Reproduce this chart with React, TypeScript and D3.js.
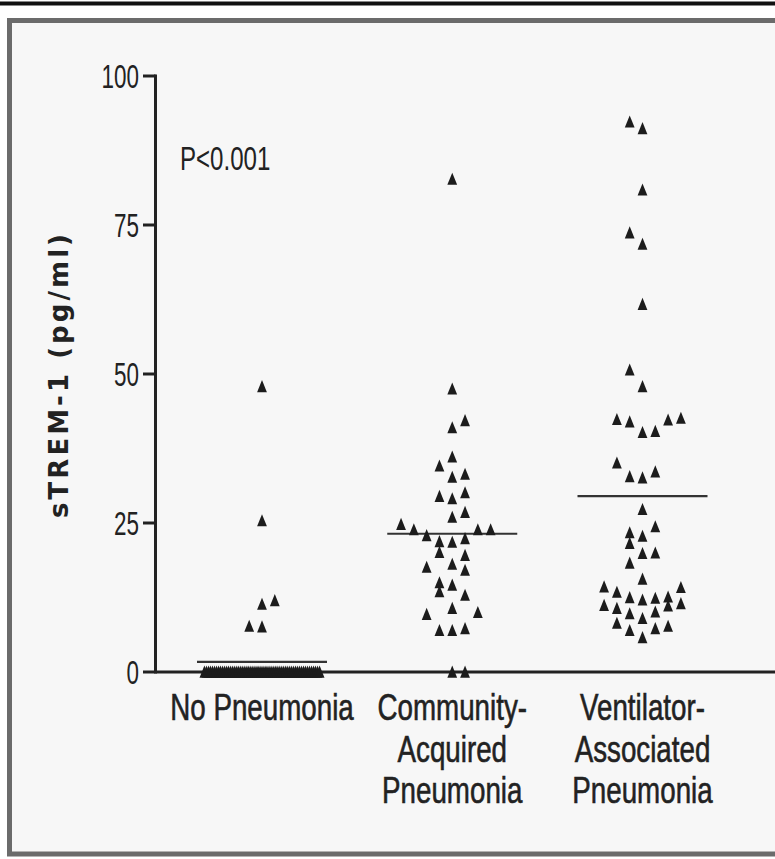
import React from 'react';
import * as d3 from 'd3';

const categories = ['No Pneumonia', 'Community-Acquired Pneumonia', 'Ventilator-Associated Pneumonia'];
const categoryLabelLines = [
  ['No Pneumonia'],
  ['Community-', 'Acquired', 'Pneumonia'],
  ['Ventilator-', 'Associated', 'Pneumonia'],
];
const yTicks = [0, 25, 50, 75, 100];
const groupMeans = [1.7, 23.2, 29.5];
const pValueText = 'P<0.001';
const yAxisTitle = 'sTREM-1 (pg/ml)';

// [value (pg/ml), column slot in the dot plot]
const noPneumoniaNonZero: [number, number][] = [
  [47.9, 0], [25.4, 0], [12.0, 1], [11.4, 0], [7.7, -1], [7.6, 0],
];
// patients with undetectable sTREM-1 (value 0), packed along the baseline
const noPneumoniaZeroSlots = [
  -4.5, -4.34, -4.18, -4.03, -3.87, -3.71, -3.55, -3.39, -3.24, -3.08, -2.92, -2.76, -2.61, -2.45,
  -2.29, -2.13, -1.97, -1.82, -1.66, -1.5, -1.34, -1.18, -1.03, -0.87, -0.71, -0.55, -0.39, -0.24,
  -0.08, 0.08, 0.24, 0.39, 0.55, 0.71, 0.87, 1.03, 1.18, 1.34, 1.5, 1.66, 1.82, 1.97, 2.13, 2.29,
  2.45, 2.61, 2.76, 2.92, 3.08, 3.24, 3.39, 3.55, 3.71, 3.87, 4.03, 4.18, 4.34, 4.5,
];
const communityPoints: [number, number][] = [
  [82.7, 0], [47.5, 0], [42.2, 1], [41.0, 0], [36.1, 0], [34.6, -1], [32.7, 0], [33.2, 1],
  [29.5, -1], [29.1, 0], [30.1, 1], [26.0, 0], [26.8, 1], [24.8, -4], [23.9, -3], [23.9, 2],
  [23.9, 3], [22.9, -2], [21.9, -1], [21.8, 0], [22.4, 1], [20.1, -1], [19.6, 1], [17.6, -2],
  [18.1, 0], [17.1, 1], [15.0, -1], [13.5, -1], [14.6, 0], [12.9, 1], [9.7, -2], [10.7, 0],
  [10.0, 2], [7.0, -1], [7.0, 0], [7.3, 1], [0, 0], [0, 1],
];
const ventilatorPoints: [number, number][] = [
  [92.3, -1], [91.2, 0], [80.9, 0], [73.7, -1], [71.8, 0], [61.7, 0], [50.7, -1], [47.9, 0],
  [42.4, -2], [42.0, -1], [40.2, 0], [40.4, 1], [42.3, 2], [42.6, 3], [35.1, -2], [32.8, -1],
  [32.6, 0], [33.6, 1], [27.3, 0], [24.4, 1], [23.4, -1], [22.8, 0], [21.6, -1], [19.9, 0],
  [20.0, 1], [18.3, -1], [15.6, 0], [14.3, -3], [13.4, -2], [12.5, -1], [12.1, 0], [12.4, 1],
  [12.6, 2], [14.2, 3], [11.2, -3], [10.7, -2], [9.8, -1], [10.1, 1], [11.1, 2], [11.5, 3],
  [9.0, 0], [8.2, -2], [7.0, -1], [7.3, 1], [7.7, 2], [5.8, 0],
];
const noPneumoniaPoints: [number, number][] = [
  ...noPneumoniaNonZero,
  ...noPneumoniaZeroSlots.map((s) => [0, s] as [number, number]),
];
const groups = [noPneumoniaPoints, communityPoints, ventilatorPoints];

const W = 775;
const H = 859;
const SANS = "'Liberation Sans', Arial, sans-serif";
const INK = '#222';

export default function App() {
  const y = d3.scaleLinear().domain([0, 100]).range([672, 76]);
  const x = d3.scalePoint<string>().domain(categories).range([262, 642.5]);
  const slot = d3.scaleLinear().domain([0, 1]).range([0, 12.8]);
  const axisX = 155.5;
  const tri = 'M0,-6.4L4.9,5.7L-4.9,5.7Z';

  return (
    <svg width={W} height={H} style={{ position: 'absolute', left: 0, top: 0, background: '#fff' }}>
      <rect x={0} y={1.5} width={W} height={4} fill="#111" />
      <rect x={9.5} y={20.5} width={820} height={833.5} fill="#f7f7f7" stroke="#6b6b6b" strokeWidth={5} />

      {/* y axis */}
      <line x1={axisX} x2={axisX} y1={y(100) - 1.5} y2={y(0) + 1.5} stroke={INK} strokeWidth={3} />
      {yTicks.map((t) => (
        <g key={t}>
          <line x1={143} x2={axisX} y1={y(t)} y2={y(t)} stroke={INK} strokeWidth={3} />
          <text
            transform={`translate(139,${y(t) + 11.5}) scale(0.68,1)`}
            textAnchor="end"
            fontFamily={SANS}
            fontSize={33}
            fill={INK}
          >
            {t}
          </text>
        </g>
      ))}
      {/* x axis */}
      <line x1={axisX} x2={W} y1={y(0)} y2={y(0)} stroke={INK} strokeWidth={3} />

      <text
        transform={`translate(68,376) rotate(-90)`}
        textAnchor="middle"
        fontFamily="'DejaVu Sans', Verdana, sans-serif"
        fontWeight="bold"
        fontSize={26}
        fill={INK}
        textLength={284}
        lengthAdjust="spacing"
      >
        {yAxisTitle}
      </text>

      <text transform="translate(180,170) scale(0.73,1)" fontFamily={SANS} fontSize={33} fill={INK}>
        {pValueText}
      </text>

      {/* means */}
      {categories.map((c, i) => (
        <line
          key={c}
          x1={(x(c) as number) - 65}
          x2={(x(c) as number) + 65}
          y1={y(groupMeans[i])}
          y2={y(groupMeans[i])}
          stroke="#333"
          strokeWidth={2.2}
        />
      ))}

      {/* points */}
      {categories.map((c, i) =>
        groups[i].map(([v, s], j) => (
          <path
            key={`${c}-${j}`}
            d={tri}
            transform={`translate(${(x(c) as number) + slot(s)},${y(v)})`}
            fill="#1c1c1c"
          />
        ))
      )}

      {/* category labels */}
      {categories.map((c, i) =>
        categoryLabelLines[i].map((line, k) => (
          <text
            key={`${c}-l${k}`}
            transform={`translate(${x(c)},${720 + k * 41.5}) scale(0.75,1)`}
            textAnchor="middle"
            fontFamily={SANS}
            fontSize={37}
            fill={INK}
            stroke={INK}
            strokeWidth={0.6}
          >
            {line}
          </text>
        ))
      )}
    </svg>
  );
}
